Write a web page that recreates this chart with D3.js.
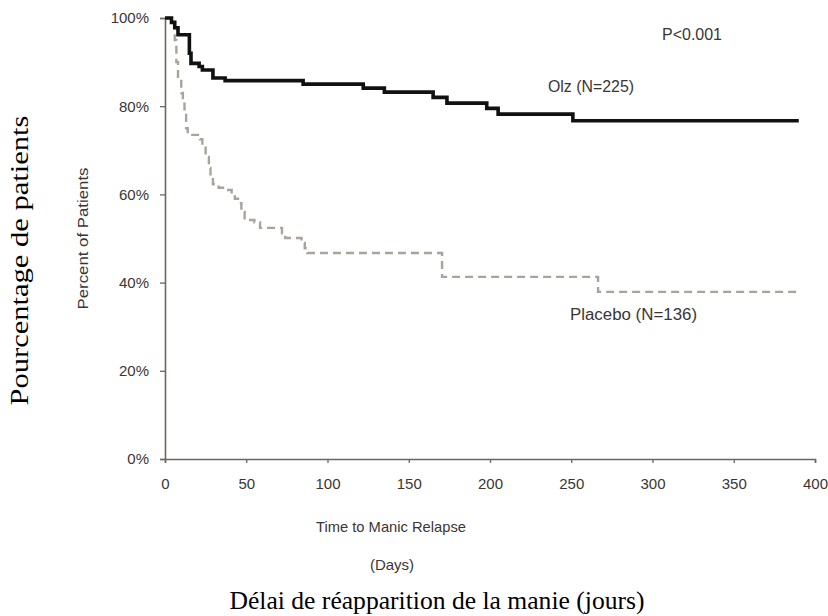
<!DOCTYPE html>
<html>
<head>
<meta charset="utf-8">
<script src="https://cdn.jsdelivr.net/npm/d3@7"></script>
<style>
  html, body { margin: 0; padding: 0; background: #fff; }
  svg { display: block; }
</style>
</head>
<body>
<svg id="chart" width="828" height="616"></svg>
<script>
// ---- data ----
const olzDays = [0, 4, 6, 8, 15, 16, 21, 23, 29.5, 37, 85, 122, 135, 165, 173.5, 198, 205, 251, 390];
const olzPct  = [100, 99, 97.8, 96.2, 92, 89.7, 89.0, 88.2, 86.4, 85.8, 85.0, 84.1, 83.2, 82.0, 80.7, 79.5, 78.2, 76.7, 76.7];

const placeboDays = [0, 5, 6, 7, 8, 10, 11, 12, 13, 14, 21.5, 23, 25, 27, 28, 29.5, 33, 38, 41, 43, 46, 47, 49, 55, 58.5, 72, 74, 84, 86, 87.5, 170.5, 266.5, 390];
const placeboPct  = [100, 99, 95, 90, 86, 83, 81, 78, 75, 73.5, 72.5, 71, 68.5, 66, 64, 62.3, 61.5, 61, 60, 59, 58, 56, 54.2, 53.7, 52.4, 51.2, 50.1, 49, 47.8, 46.7, 41.3, 37.9, 37.9];

const xTicks = [0, 50, 100, 150, 200, 250, 300, 350, 400];
const yTicks = [0, 20, 40, 60, 80, 100];

const seriesLabels = ["Olz (N=225)", "Placebo (N=136)"];
const pLabel = "P<0.001";
const xTitle1 = "Time to Manic Relapse";
const xTitle2 = "(Days)";
const yTitle = "Percent of Patients";
const frXTitle = "Délai de réapparition de la manie (jours)";
const frYTitle = "Pourcentage de patients";

// ---- layout ----
const svg = d3.select("#chart");
const x = d3.scaleLinear().domain([0, 400]).range([165, 815]);
const y = d3.scaleLinear().domain([0, 100]).range([459, 18]);
const axisColor = "#6e6660";
const textColor = "#3a3633";
const sans = "'Liberation Sans', Arial, Helvetica, sans-serif";
const serif = "'Liberation Serif', 'Times New Roman', serif";

// axes
const xAxis = svg.append("g").attr("transform", `translate(0,${y(0)})`)
  .call(d3.axisBottom(x).tickValues(xTicks).tickSize(4).tickPadding(15).tickFormat(d3.format("d")));
const yAxis = svg.append("g").attr("transform", `translate(${x(0)},0)`)
  .call(d3.axisLeft(y).tickValues(yTicks).tickSize(5).tickPadding(11).tickFormat(d => d + "%"));
[xAxis, yAxis].forEach(g => {
  g.select(".domain").attr("stroke", axisColor).attr("stroke-width", 1.6);
  g.selectAll(".tick line").attr("stroke", axisColor).attr("stroke-width", 1.3);
  g.selectAll(".tick text").attr("fill", textColor).style("font-family", sans).style("font-size", "15px");
});

// curves
const olz = olzDays.map((d, i) => [d, olzPct[i]]);
const placebo = placeboDays.map((d, i) => [d, placeboPct[i]]);
const line = d3.line().x(d => x(d[0])).y(d => y(d[1])).curve(d3.curveStepAfter);

svg.append("path").datum(placebo)
  .attr("d", line).attr("fill", "none")
  .attr("stroke", "#aaa39c").attr("stroke-width", 2.4)
  .attr("stroke-dasharray", "8,5");

svg.append("path").datum(olz)
  .attr("d", line).attr("fill", "none")
  .attr("stroke", "#111").attr("stroke-width", 3.6);

// annotations
const ann = (txt, xx, yy, opts = {}) => {
  const t = svg.append("text")
    .attr("x", xx).attr("y", yy).text(txt)
    .attr("fill", opts.fill || textColor)
    .attr("text-anchor", opts.anchor || "start")
    .style("font-family", opts.font || sans)
    .style("font-size", (opts.size || 16) + "px");
  if (opts.len) t.attr("textLength", opts.len).attr("lengthAdjust", "spacingAndGlyphs");
  return t;
};

ann(pLabel, 662, 40, {len: 60});
ann(seriesLabels[0], 548, 92, {len: 86});
ann(seriesLabels[1], 570, 320, {len: 127});
ann(xTitle1, 391, 532, {anchor: "middle", size: 15, len: 150});
ann(xTitle2, 392, 570, {anchor: "middle", size: 15});
ann(frXTitle, 437, 609, {anchor: "middle", font: serif, size: 25, fill: "#000", len: 415});

svg.append("text").attr("transform", `translate(88,${y(50)}) rotate(-90)`)
  .attr("text-anchor", "middle").text(yTitle)
  .attr("textLength", 142).attr("lengthAdjust", "spacingAndGlyphs")
  .attr("fill", textColor).style("font-family", sans).style("font-size", "14px");
svg.append("text").attr("transform", `translate(28,${y(45)}) rotate(-90)`)
  .attr("text-anchor", "middle").text(frYTitle)
  .attr("textLength", 290).attr("lengthAdjust", "spacingAndGlyphs")
  .attr("fill", "#000").style("font-family", serif).style("font-size", "25px");
</script>
</body>
</html>
